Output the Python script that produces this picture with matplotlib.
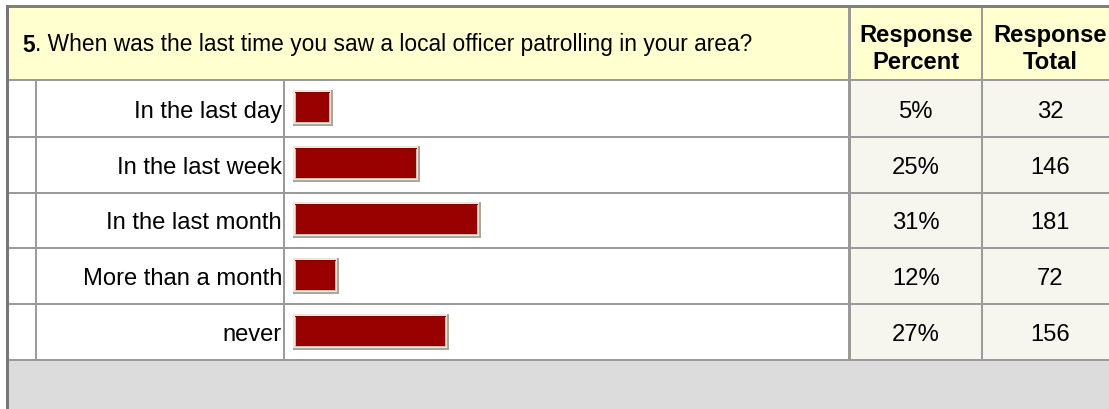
import matplotlib
matplotlib.use("Agg")
import matplotlib.pyplot as plt
from matplotlib.patches import Rectangle

# ---- data ----
question_num = "5"
question_text = ". When was the last time you saw a local officer patrolling in your area?"
categories = ["In the last day", "In the last week", "In the last month",
              "More than a month", "never"]
percent_labels = ["5%", "25%", "31%", "12%", "27%"]
totals = [32, 146, 181, 72, 156]
# bar lengths as drawn in the picture (percent scale)
bar_lengths = [6.6, 21.0, 31.0, 7.6, 25.7]
col_headers = ["Response\nPercent", "Response\nTotal"]

W, H = 1109, 410
fig = plt.figure(figsize=(W / 100, H / 100), dpi=100)
ax = fig.add_axes([0, 0, 1, 1])
ax.set_xlim(0, W)
ax.set_ylim(H, 0)
ax.axis("off")

FONT = "Liberation Sans"
FS = 17.1
FS_Q = 16.4

def rect(x0, y0, x1, y1, color, z=1):
    ax.add_patch(Rectangle((x0, y0), x1 - x0, y1 - y0, facecolor=color,
                           edgecolor="none", linewidth=0, zorder=z))

# layout
LEFT, TOP = 6, 6
HDR_TOP, HDR_BOT = 9, 80
ROW_TOP = 82
ROW_H = 55.8
c_narrow, c_label, c_bar, c_pct = 35, 283, 848, 981
line_gray = "#9a9a9a"
yellow = "#ffffd0"
cream = "#f6f6ef"
n = len(categories)
rows_bot = ROW_TOP + n * ROW_H

# outer borders
rect(LEFT, TOP, W, H, "#ffffff", 0)
rect(LEFT, TOP, W, TOP + 3, "#7f7f7f", 5)
rect(LEFT, TOP, LEFT + 3, H, "#777777", 5)

# header
rect(LEFT + 3, HDR_TOP, W, HDR_BOT, yellow, 1)
rect(LEFT + 3, HDR_BOT, W, ROW_TOP, line_gray, 3)
rect(c_bar, HDR_TOP, c_bar + 3, rows_bot, line_gray, 3)
rect(c_pct, HDR_TOP, c_pct + 2, rows_bot, line_gray, 3)

# cells
rect(c_bar + 3, ROW_TOP, c_pct, rows_bot, cream, 1)
rect(c_pct + 2, ROW_TOP, W, rows_bot, cream, 1)
rect(c_narrow, ROW_TOP, c_narrow + 2, rows_bot, line_gray, 3)
rect(c_label, ROW_TOP, c_label + 2, rows_bot, line_gray, 3)

# footer
rect(LEFT + 3, rows_bot, W, H, "#dcdcdc", 1)

# header texts
t5 = ax.text(22, 45, question_num, fontsize=FS_Q, fontweight="bold", family=FONT,
             ha="left", va="center", color="#000000")
fig.canvas.draw()
r = fig.canvas.get_renderer()
bb = t5.get_window_extent(renderer=r)
x_after = bb.x1  # pixel coordinates equal data x here
ax.text(x_after, 45, question_text, fontsize=FS_Q, family=FONT,
        ha="left", va="center", color="#000000")
for cx, lab in zip([(c_bar + 3 + c_pct) / 2, (c_pct + 2 + 1117) / 2], col_headers):
    ax.text(cx, 49, lab, fontsize=FS, fontweight="bold", family=FONT,
            ha="center", va="center", linespacing=1.2, color="#000000")

# rows
px_per_pct = 188 / 31
bar_x0 = 293
for i, (cat, pct, tot, bl) in enumerate(zip(categories, percent_labels, totals, bar_lengths)):
    y0 = ROW_TOP + i * ROW_H
    yc = y0 + ROW_H / 2 - 0.5
    # row separator
    rect(LEFT + 3, y0 + ROW_H - 1, W, y0 + ROW_H + 1, line_gray, 3)
    ty = yc + 2.5
    ax.text(c_label - 1, ty, cat, fontsize=FS, family=FONT, ha="right",
            va="center", color="#000000", zorder=6)
    ax.text((c_bar + 3 + c_pct) / 2, ty, pct, fontsize=FS, family=FONT,
            ha="center", va="center", color="#000000", zorder=6)
    ax.text((c_pct + 2 + 1117) / 2, ty, str(tot), fontsize=FS, family=FONT,
            ha="center", va="center", color="#000000", zorder=6)
    # bevelled bar
    bw = bl * px_per_pct
    bt, bb_ = yc - 18, yc + 18
    rect(bar_x0, bt, bar_x0 + bw, bb_, "#aca899", 4)
    rect(bar_x0, bt, bar_x0 + bw - 2, bb_ - 2, "#ece9d8", 4)
    rect(bar_x0 + 2, bt + 2, bar_x0 + bw - 3, bb_ - 3, "#c8c0b0", 4)
    rect(bar_x0 + 2, bt + 2, bar_x0 + bw - 3, bt + 3, "#8b0000", 5)
    rect(bar_x0 + 3, bt + 3, bar_x0 + bw - 4, bb_ - 4, "#990000", 5)

fig.savefig("out.png", dpi=100)
